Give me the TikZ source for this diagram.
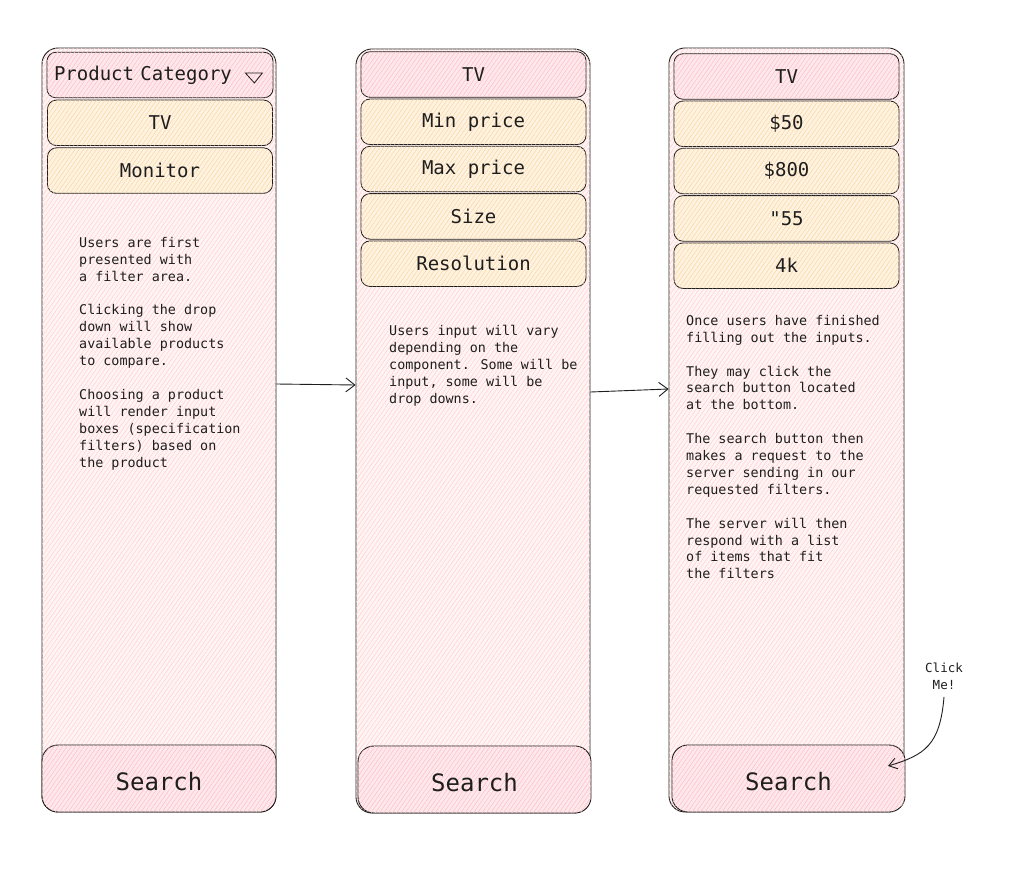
\documentclass[tikz,border=0pt]{standalone}
\usepackage{fontspec}
\newfontfamily\sketchfont{DejaVu Sans Mono}
\usetikzlibrary{positioning, arrows.meta, patterns.meta}

\definecolor{ink}{RGB}{30,30,30}
\definecolor{panelfill}{RGB}{255,244,244}
\definecolor{panelhatch}{RGB}{255,208,208}
\definecolor{headfill}{RGB}{255,232,235}
\definecolor{headhatch}{RGB}{250,192,200}
\definecolor{itemfill}{RGB}{255,243,224}
\definecolor{itemhatch}{RGB}{248,214,168}

\tikzset{
  hatch/.style 2 args={fill=#1, postaction={pattern={Lines[angle=55,distance=3.5pt,line width=0.5pt]}, pattern color=#2}},
  panel/.style={draw=ink, line width=0.9pt, rounded corners=16pt, hatch={panelfill}{panelhatch}, minimum height=764pt},
  boxbase/.style={draw=ink, line width=0.8pt, rounded corners=9pt, minimum width=225pt, minimum height=45.5pt, text=ink, font=\sketchfont\fontsize{19}{22}\selectfont},
  header/.style={boxbase, hatch={headfill}{headhatch}},
  item/.style={boxbase, hatch={itemfill}{itemhatch}},
  searchbtn/.style={draw=ink, line width=0.9pt, rounded corners=16pt, hatch={headfill}{headhatch}, minimum height=67pt, text height=23pt, text depth=0pt, anchor=south, text=ink, font=\sketchfont\fontsize{24}{28}\selectfont},
  note/.style={anchor=north west, align=left, inner sep=0pt, text=ink, font=\sketchfont\fontsize{13.4}{16.9}\selectfont},
  flow/.style={draw=ink, line width=0.9pt, -{Straight Barb[length=9pt,width=14pt]}},
}

\begin{document}
\begin{tikzpicture}[x=1pt, y=-1pt, node distance=1pt]
    \useasboundingbox (0,0) rectangle (1024,885);

    % Panels
    \node[panel, minimum width=234pt] (P1) at (159,430) {};
    \node[panel, minimum width=234pt] (P2) at (473,431) {};
    \node[panel, minimum width=235pt] (P3) at (786.5,430) {};

    % Panel one: category drop down
    \node[header, minimum width=226pt, text width=212pt, inner xsep=7pt, align=left] (Cat1) at (160,75) {Product\ Category};
    \node[item] (TV1) [below=1.5pt of Cat1] {TV};
    \node[item] (Mon1) [below=1.5pt of TV1] {Monitor};
    \draw[ink, line width=0.8pt] ([xshift=-28pt,yshift=2pt]Cat1.east) -- ++(17,0) -- ++(-8,10) -- cycle;

    % Panel two: specification filters
    \node[header] (TV2) at (473.5,74.5) {TV};
    \node[item] (Min2) [below=of TV2] {Min price};
    \node[item] (Max2) [below=of Min2] {Max price};
    \node[item] (Size2) [below=of Max2] {Size};
    \node[item] (Res2) [below=of Size2] {Resolution};

    % Panel three: filled in filters
    \node[header] (TV3) at (786.5,76.5) {TV};
    \node[item] (Min3) [below=of TV3] {\$50};
    \node[item] (Max3) [below=of Min3] {\$800};
    \node[item] (Size3) [below=of Max3] {"55};
    \node[item] (Res3) [below=of Size3] {4k};

    % Notes
    \node[note] (N1) at (79,237) {Users are first\\presented with\\a filter area.\\[16.9pt]Clicking the drop\\down will show\\available products\\to compare.\\[16.9pt]Choosing a product\\will render input\\boxes (specification\\filters) based on\\the product};
    \node[note] (N2) at (389,325) {Users input will vary\\depending on the\\component. Some will be\\input, some will be\\drop downs.};
    \node[note] (N3) at (686,315) {Once users have finished\\filling out the inputs.\\[16.9pt]They may click the\\search button located\\at the bottom.\\[16.9pt]The search button then\\makes a request to the\\server sending in our\\requested filters.\\[16.9pt]The server will then\\respond with a list\\of items that fit\\the filters};

    % Search buttons
    \node[searchbtn, minimum width=234pt] (S1) at (P1.south) {Search};
    \node[searchbtn, minimum width=233pt] (S2) at ([xshift=1.5pt]P2.south) {Search};
    \node[searchbtn, minimum width=233pt] (S3) at ([xshift=2pt]P3.south) {Search};

    % Flow between panels
    \draw[flow] ([yshift=46pt]P1.east) -- ([yshift=46pt]P2.west);
    \draw[flow] ([yshift=39pt]P2.east) -- ([yshift=41pt]P3.west);

    % Click hint
    \node[align=center, text=ink, font=\sketchfont\fontsize{12.5}{17}\selectfont] (Click) at (944,676) {Click\\Me!};
    \coordinate (Tip) at (888,766);
    \draw[flow, -{Straight Barb[length=8pt,width=11pt]}] ([yshift=-4pt]Click.south) .. controls (940,745) and (925,755) .. (Tip);
\end{tikzpicture}
\end{document}
